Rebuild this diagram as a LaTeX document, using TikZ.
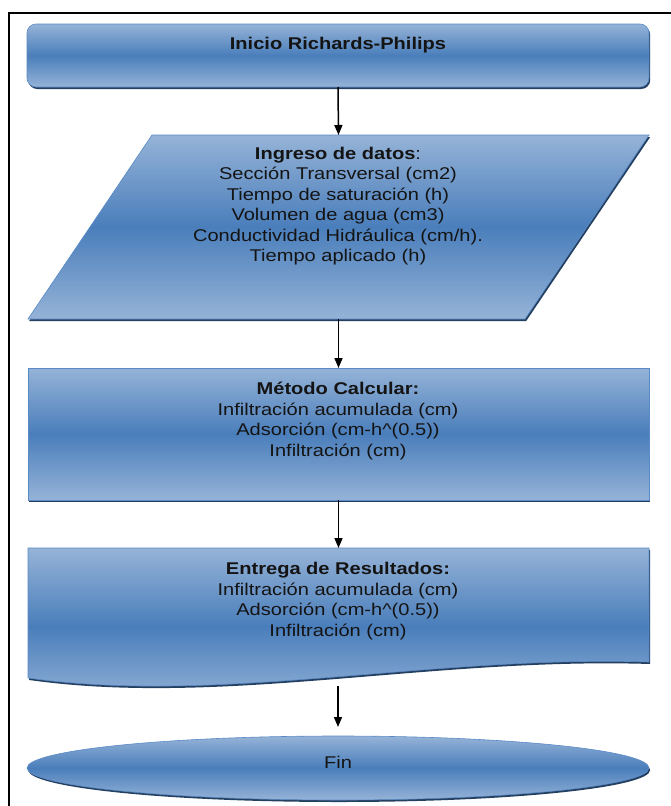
\documentclass[tikz,border=0pt]{standalone}
\usepackage{fontspec}
\setmainfont{Liberation Sans}[FakeStretch=1.18]
\usetikzlibrary{arrows.meta,calc,shapes.geometric}
\definecolor{lb}{HTML}{95B3D7}
\definecolor{db}{HTML}{4A7EBB}
\definecolor{bd}{HTML}{5A8AC6}
\definecolor{sh}{HTML}{243F60}
\definecolor{tx}{HTML}{141414}
\begin{document}
\begin{tikzpicture}[x=1pt,y=-1pt,
  blueshape/.style={top color=lb,bottom color=lb,middle color=db,draw=bd,line width=0.6pt,
    preaction={fill=sh,transform canvas={shift={(1.2pt,-2pt)}}}},
  area/.style={inner sep=0pt,outer sep=0pt},
  txt/.style={text=tx,font=\fontsize{17}{20.5}\selectfont,align=center,inner sep=0pt},
  conn/.style={line width=1.5pt,-{Triangle[length=10pt,width=8pt]}}]
\useasboundingbox (0,0) rectangle (671,806);
\fill[white] (0,0) rectangle (671,806);
\draw[line width=2pt] (9,806) -- (9,13) -- (671,13);

% start
\node[area,blueshape,rectangle,rounded corners=9pt,minimum width=622pt,minimum height=63pt] (start) at (338,55.5) {};
\node[txt] (starttxt) at (338,45) {\bfseries Inicio Richards-Philips};

% input parallelogram
\node[area,minimum width=621pt,minimum height=184pt] (inp) at (338.5,227) {};
\draw[blueshape] ($(inp.north west)+(124,0)$) -- (inp.north east) -- ($(inp.south east)+(-124,0)$) -- (inp.south west) -- cycle;
\node[txt] (inptxt) at (338,206) {{\bfseries Ingreso de datos}:\\Sección Transversal (cm2)\\Tiempo de saturación (h)\\Volumen de agua (cm3)\\Conductividad Hidráulica (cm/h).\\Tiempo aplicado (h)};

% process
\node[area,blueshape,rectangle,minimum width=621pt,minimum height=132pt] (calc) at (338.5,434) {};
\node[txt] (calctxt) at (338,421) {\bfseries Método Calcular:\\Infiltración acumulada (cm)\\Adsorción (cm-h\^{}(0.5))\\Infiltración (cm)};

% document
\node[area,minimum width=621pt,minimum height=114pt] (doc) at (338.5,605) {};
\draw[blueshape] (doc.north west) -- (doc.north east) -- (doc.south east) .. controls (430,655) and (220,705) .. (28,678) -- cycle;
\coordinate (docb) at (338,686);
\node[txt] (doctxt) at (338,601) {\bfseries Entrega de Resultados:\\Infiltración acumulada (cm)\\Adsorción (cm-h\^{}(0.5))\\Infiltración (cm)};

% end
\node[area,blueshape,ellipse,minimum width=622pt,minimum height=64pt] (fin) at (338,768) {};
\node[txt] (fintxt) at (338,762) {Fin};

% connectors
\draw[conn] (start.south) -- (inp.north);
\draw[conn] (inp.south) -- (calc.north);
\draw[conn] (calc.south) -- (doc.north);
\draw[conn] (docb) -- ($(fin.north)+(0,-9)$);
\end{tikzpicture}
\end{document}
